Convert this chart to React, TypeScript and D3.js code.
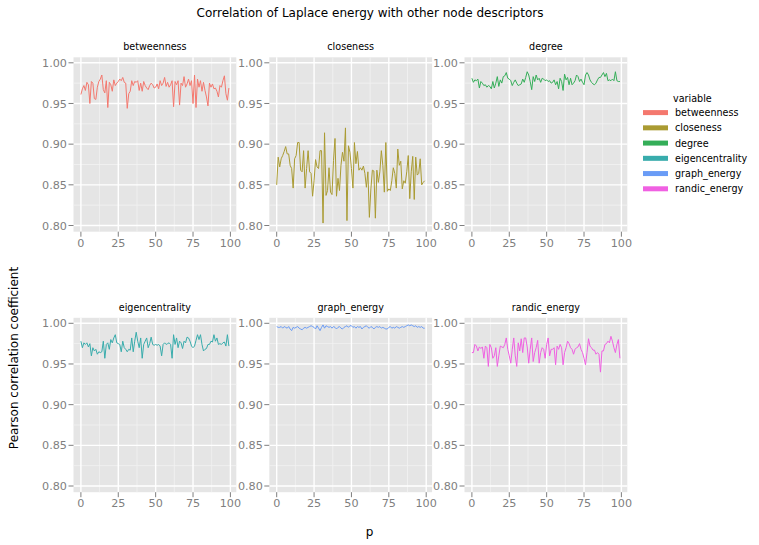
import React from "react";
import * as d3 from "d3";

const series = ["betweenness", "closeness", "degree", "eigencentrality", "graph_energy", "randic_energy"];
const colors = ["#F4786E", "#AA9B32", "#34AE58", "#38ACAC", "#6A9CF6", "#F060E2"];

const betweenness = [
  0.961, 0.968, 0.972, 0.966, 0.976, 0.973, 0.950, 0.977, 0.975, 0.956,
  0.955, 0.970, 0.977, 0.980, 0.985, 0.967, 0.963, 0.978, 0.945, 0.976,
  0.973, 0.965, 0.979, 0.972, 0.975, 0.977, 0.980, 0.978, 0.982, 0.976,
  0.975, 0.944, 0.962, 0.965, 0.978, 0.972, 0.977, 0.976, 0.978, 0.966,
  0.975, 0.965, 0.977, 0.972, 0.969, 0.967, 0.972, 0.975, 0.973, 0.969,
  0.970, 0.974, 0.968, 0.978, 0.972, 0.975, 0.982, 0.971, 0.976, 0.970,
  0.973, 0.978, 0.946, 0.977, 0.973, 0.978, 0.948, 0.975, 0.972, 0.983,
  0.970, 0.974, 0.980, 0.972, 0.978, 0.950, 0.985, 0.945, 0.980, 0.970,
  0.978, 0.965, 0.976, 0.966, 0.958, 0.947, 0.975, 0.970, 0.974, 0.968,
  0.969, 0.965, 0.958, 0.972, 0.970, 0.978, 0.984, 0.962, 0.954, 0.969,
];

const closeness = [
  0.850, 0.884, 0.872, 0.882, 0.886, 0.891, 0.897, 0.888, 0.888, 0.874,
  0.870, 0.846, 0.882, 0.886, 0.902, 0.902, 0.868, 0.866, 0.892, 0.846,
  0.870, 0.892, 0.866, 0.864, 0.836, 0.855, 0.881, 0.872, 0.870, 0.892,
  0.892, 0.803, 0.914, 0.837, 0.843, 0.871, 0.841, 0.838, 0.880, 0.907,
  0.836, 0.858, 0.843, 0.874, 0.890, 0.879, 0.920, 0.806, 0.898, 0.890,
  0.870, 0.846, 0.902, 0.876, 0.891, 0.868, 0.871, 0.868, 0.873, 0.864,
  0.847, 0.866, 0.810, 0.845, 0.868, 0.867, 0.809, 0.868, 0.853, 0.866,
  0.892, 0.874, 0.841, 0.902, 0.842, 0.845, 0.843, 0.855, 0.871, 0.864,
  0.846, 0.894, 0.874, 0.879, 0.845, 0.855, 0.852, 0.866, 0.886, 0.833,
  0.866, 0.885, 0.832, 0.884, 0.862, 0.864, 0.882, 0.850, 0.853, 0.855,
];

const degree = [
  0.981, 0.976, 0.979, 0.978, 0.980, 0.969, 0.977, 0.975, 0.972, 0.973,
  0.970, 0.972, 0.971, 0.968, 0.977, 0.969, 0.975, 0.983, 0.971, 0.979,
  0.975, 0.983, 0.984, 0.988, 0.981, 0.980, 0.978, 0.972, 0.976, 0.979,
  0.975, 0.972, 0.973, 0.974, 0.980, 0.976, 0.982, 0.989, 0.985, 0.977,
  0.967, 0.983, 0.977, 0.985, 0.979, 0.981, 0.976, 0.981, 0.980, 0.978,
  0.979, 0.977, 0.978, 0.975, 0.976, 0.979, 0.973, 0.977, 0.968, 0.981,
  0.977, 0.966, 0.986, 0.979, 0.982, 0.973, 0.981, 0.973, 0.975, 0.978,
  0.985, 0.983, 0.977, 0.980, 0.976, 0.973, 0.985, 0.988, 0.985, 0.979,
  0.976, 0.974, 0.973, 0.975, 0.979, 0.982, 0.982, 0.985, 0.988, 0.983,
  0.987, 0.978, 0.979, 0.978, 0.980, 0.978, 0.989, 0.978, 0.977, 0.977,
];

const eigencentrality = [
  0.978, 0.970, 0.976, 0.974, 0.976, 0.971, 0.975, 0.960, 0.970, 0.966,
  0.968, 0.962, 0.965, 0.964, 0.965, 0.978, 0.957, 0.974, 0.976, 0.968,
  0.980, 0.976, 0.982, 0.986, 0.976, 0.975, 0.974, 0.965, 0.978, 0.970,
  0.968, 0.965, 0.968, 0.967, 0.982, 0.965, 0.978, 0.989, 0.978, 0.970,
  0.982, 0.957, 0.974, 0.978, 0.982, 0.970, 0.975, 0.983, 0.974, 0.973,
  0.974, 0.973, 0.974, 0.972, 0.960, 0.974, 0.976, 0.974, 0.975, 0.976,
  0.974, 0.957, 0.986, 0.974, 0.982, 0.970, 0.978, 0.976, 0.969, 0.978,
  0.976, 0.983, 0.982, 0.978, 0.972, 0.970, 0.972, 0.979, 0.986, 0.980,
  0.986, 0.974, 0.966, 0.968, 0.969, 0.974, 0.974, 0.978, 0.977, 0.986,
  0.978, 0.982, 0.974, 0.975, 0.974, 0.976, 0.977, 0.972, 0.986, 0.972,
];

const graph_energy = [
  0.996, 0.995, 0.995, 0.996, 0.994, 0.996, 0.995, 0.994, 0.996, 0.993,
  0.991, 0.995, 0.994, 0.995, 0.996, 0.994, 0.993, 0.992, 0.994, 0.995,
  0.994, 0.995, 0.996, 0.997, 0.996, 0.995, 0.993, 0.997, 0.994, 0.991,
  0.995, 0.998, 0.994, 0.997, 0.996, 0.995, 0.996, 0.994, 0.996, 0.995,
  0.993, 0.995, 0.996, 0.994, 0.993, 0.995, 0.996, 0.997, 0.995, 0.997,
  0.997, 0.995, 0.996, 0.994, 0.996, 0.995, 0.996, 0.993, 0.995, 0.996,
  0.997, 0.995, 0.994, 0.996, 0.995, 0.993, 0.995, 0.996, 0.995, 0.996,
  0.994, 0.995, 0.994, 0.993, 0.993, 0.995, 0.996, 0.994, 0.995, 0.994,
  0.996, 0.995, 0.994, 0.995, 0.996, 0.995, 0.996, 0.997, 0.998, 0.997,
  0.998, 0.997, 0.996, 0.997, 0.995, 0.996, 0.995, 0.996, 0.994, 0.994,
];

const randic_energy = [
  0.964, 0.964, 0.974, 0.972, 0.966, 0.971, 0.969, 0.971, 0.957, 0.972,
  0.970, 0.947, 0.974, 0.970, 0.957, 0.960, 0.970, 0.947, 0.960, 0.972,
  0.971, 0.970, 0.974, 0.982, 0.968, 0.960, 0.951, 0.968, 0.982, 0.960,
  0.947, 0.976, 0.966, 0.981, 0.964, 0.982, 0.982, 0.971, 0.951, 0.968,
  0.982, 0.953, 0.964, 0.970, 0.979, 0.951, 0.964, 0.970, 0.968, 0.957,
  0.974, 0.982, 0.960, 0.968, 0.968, 0.970, 0.949, 0.972, 0.968, 0.974,
  0.970, 0.949, 0.964, 0.970, 0.978, 0.975, 0.970, 0.968, 0.962, 0.968,
  0.970, 0.971, 0.975, 0.968, 0.964, 0.957, 0.949, 0.964, 0.981, 0.972,
  0.970, 0.967, 0.967, 0.962, 0.964, 0.962, 0.940, 0.966, 0.966, 0.974,
  0.975, 0.978, 0.976, 0.984, 0.978, 0.970, 0.964, 0.974, 0.980, 0.957,
];

const seriesValues = [betweenness, closeness, degree, eigencentrality, graph_energy, randic_energy];

const xTicks = [0, 25, 50, 75, 100];
const xMinor = [12.5, 37.5, 62.5, 87.5];
const yTicks = [0.8, 0.85, 0.9, 0.95, 1.0];
const yMinor = [0.825, 0.875, 0.925, 0.975];

const W = 759;
const H = 545;
const panelLefts = [73.5, 269.3, 464.5];
const panelTops = [57.3, 317.8];
const PW = 162.8;
const PH = 174.4;
const FONT = "'DejaVu Sans', Verdana, sans-serif";
const TICK_COLOR = "#7f7f7f";

function Panel({ idx }: { idx: number }) {
  const col = idx % 3;
  const row = Math.floor(idx / 3);
  const left = panelLefts[col];
  const top = panelTops[row];
  const x = d3.scaleLinear().domain([-4.95, 103.95]).range([left, left + PW]);
  const y = d3.scaleLinear().domain([0.79238, 1.00676]).range([top + PH, top]);
  const vals = seriesValues[idx];
  const line = d3
    .line<number>()
    .x((_, i) => x(i))
    .y((d) => y(d));
  return (
    <g>
      <rect x={left} y={top} width={PW} height={PH} fill="#E5E5E5" />
      {xMinor.map((t) => (
        <line key={"xm" + t} x1={x(t)} x2={x(t)} y1={top} y2={top + PH} stroke="#F2F2F2" strokeWidth={0.8} />
      ))}
      {yMinor.map((t) => (
        <line key={"ym" + t} x1={left} x2={left + PW} y1={y(t)} y2={y(t)} stroke="#F2F2F2" strokeWidth={0.8} />
      ))}
      {xTicks.map((t) => (
        <line key={"xg" + t} x1={x(t)} x2={x(t)} y1={top} y2={top + PH} stroke="#FFFFFF" strokeWidth={1.4} />
      ))}
      {yTicks.map((t) => (
        <line key={"yg" + t} x1={left} x2={left + PW} y1={y(t)} y2={y(t)} stroke="#FFFFFF" strokeWidth={1.4} />
      ))}
      <path d={line(vals) || ""} fill="none" stroke={colors[idx]} strokeWidth={1} />
      {yTicks.map((t) => (
        <g key={"yt" + t}>
          <line x1={left - 5} x2={left} y1={y(t)} y2={y(t)} stroke={TICK_COLOR} strokeWidth={1} />
          <text x={left - 6.5} y={y(t)} dy="0.36em" textAnchor="end" fontSize={11.2} fill={TICK_COLOR} fontFamily={FONT}>
            {d3.format(".2f")(t)}
          </text>
        </g>
      ))}
      {xTicks.map((t) => (
        <g key={"xt" + t}>
          <line x1={x(t)} x2={x(t)} y1={top + PH} y2={top + PH + 5} stroke={TICK_COLOR} strokeWidth={1} />
          <text x={x(t)} y={top + PH + 15} textAnchor="middle" fontSize={11.2} fill={TICK_COLOR} fontFamily={FONT}>
            {t}
          </text>
        </g>
      ))}
      <text x={left + PW / 2} y={top - 7} textAnchor="middle" fontSize={9.6} fill="#000" fontFamily={FONT}>
        {series[idx]}
      </text>
    </g>
  );
}

export default function App() {
  const legendY = d3.scaleLinear().domain([0, 5]).range([112.6, 188.8]);
  return (
    <svg width={W} height={H} style={{ display: "block", position: "absolute", left: 0, top: 0 }} fontFamily={FONT}>
      <rect width={W} height={H} fill="#FFFFFF" />
      <text x={370} y={17} textAnchor="middle" fontSize={12} fill="#000">
        Correlation of Laplace energy with other node descriptors
      </text>
      {series.map((_, i) => (
        <Panel key={i} idx={i} />
      ))}
      <text x={369.5} y={536} textAnchor="middle" fontSize={12} fill="#000">
        p
      </text>
      <text transform="translate(17.5,358) rotate(-90)" textAnchor="middle" fontSize={12} fill="#000">
        Pearson correlation coefficient
      </text>
      <text x={673} y={101.5} fontSize={9.6} fill="#000">
        variable
      </text>
      {series.map((s, i) => (
        <g key={s}>
          <rect x={643} y={legendY(i) - 2.5} width={25} height={5} fill={colors[i]} />
          <text x={675} y={legendY(i)} dy="0.36em" fontSize={9.6} fill="#000">
            {s}
          </text>
        </g>
      ))}
    </svg>
  );
}
